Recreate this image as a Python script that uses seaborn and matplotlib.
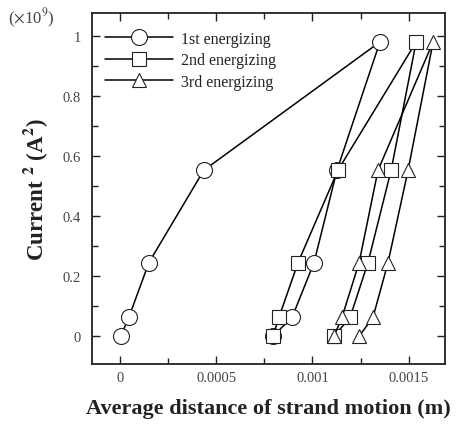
import matplotlib
matplotlib.use("Agg")
import matplotlib.pyplot as plt
import seaborn as sns
import pandas as pd
from matplotlib.ticker import MultipleLocator

# Data (current^2 in units of 1e9 A^2, distance in m)
current_sq = [0, 0.0625, 0.245, 0.5525, 0.98, 0.5525, 0.245, 0.0625, 0]
dist_1st = [0.000005, 0.000047, 0.000151, 0.000436, 0.00135, 0.001127, 0.001008, 0.000894, 0.000795]
dist_2nd = [0.000795, 0.000826, 0.000925, 0.001132, 0.001538, 0.001408, 0.001288, 0.001195, 0.001112]
dist_3rd = [0.001112, 0.001153, 0.001242, 0.00134, 0.001626, 0.001496, 0.001392, 0.001314, 0.001242]
labels = ["1st energizing", "2nd energizing", "3rd energizing"]
xticks = [0, 0.0005, 0.001, 0.0015]
xticklabels = ["0", "0.0005", "0.001", "0.0015"]
yticks = [0, 0.2, 0.4, 0.6, 0.8, 1]
yticklabels = ["0", "0.2", "0.4", "0.6", "0.8", "1"]

sns.set_theme(style="ticks")
plt.rcParams['font.family'] = ['Liberation Serif', 'DejaVu Serif']
plt.rcParams['mathtext.fontset'] = 'stix'

fig = plt.figure(figsize=(4.76, 4.31), dpi=100)
ax = fig.add_axes([0.193, 0.153, 0.742, 0.815])

series = [(dist_1st, 'o', 11.5), (dist_2nd, 's', 9.5), (dist_3rd, '^', 10)]
for (xs, mk, ms), lab in zip(series, labels):
    df = pd.DataFrame({"x": xs, "y": current_sq})
    sns.lineplot(data=df, x="x", y="y", sort=False, estimator=None, ax=ax,
                 color="black", linewidth=1.1, marker=mk, markersize=ms,
                 markerfacecolor="white", markeredgecolor="#222222",
                 markeredgewidth=0.8, label=lab)

ax.set_xlim(-0.000145, 0.001688)
ax.set_ylim(-0.093, 1.077)
ax.set_xticks(xticks)
ax.set_xticklabels(xticklabels)
ax.set_yticks(yticks)
ax.set_yticklabels(yticklabels)
ax.xaxis.set_minor_locator(MultipleLocator(0.00025))
ax.yaxis.set_minor_locator(MultipleLocator(0.1))
ax.tick_params(which='both', direction='in', top=True, right=True,
               labelsize=10.5, labelcolor='#444444', color='#222222')
ax.tick_params(which='major', length=6, width=1.0)
ax.tick_params(axis='x', which='major', pad=5)
ax.tick_params(axis='y', which='major', pad=8)
ax.tick_params(which='minor', length=4, width=1.0)
for sp in ax.spines.values():
    sp.set_linewidth(1.3)
    sp.set_color('#222222')

ax.set_xlabel("Average distance of strand motion (m)", fontsize=16,
              fontweight='bold', labelpad=10, color='#222222')
ax.set_ylabel(r"Current $\mathbf{^2}$ (A$\mathbf{^2}$)", fontsize=16.5,
              fontweight='bold', labelpad=9, color='#222222')
fig.text(0.017, 0.945, r"($\times$10$^9$)", fontsize=12, color='#444444')

leg = ax.legend(loc='upper left', frameon=False, fontsize=11.5,
                handlelength=4.3, handletextpad=0.5, labelspacing=0.35,
                borderaxespad=0.4, bbox_to_anchor=(0.0, 0.985))
for t in leg.get_texts():
    t.set_color('#222222')

fig.savefig("out.png", dpi=100)
